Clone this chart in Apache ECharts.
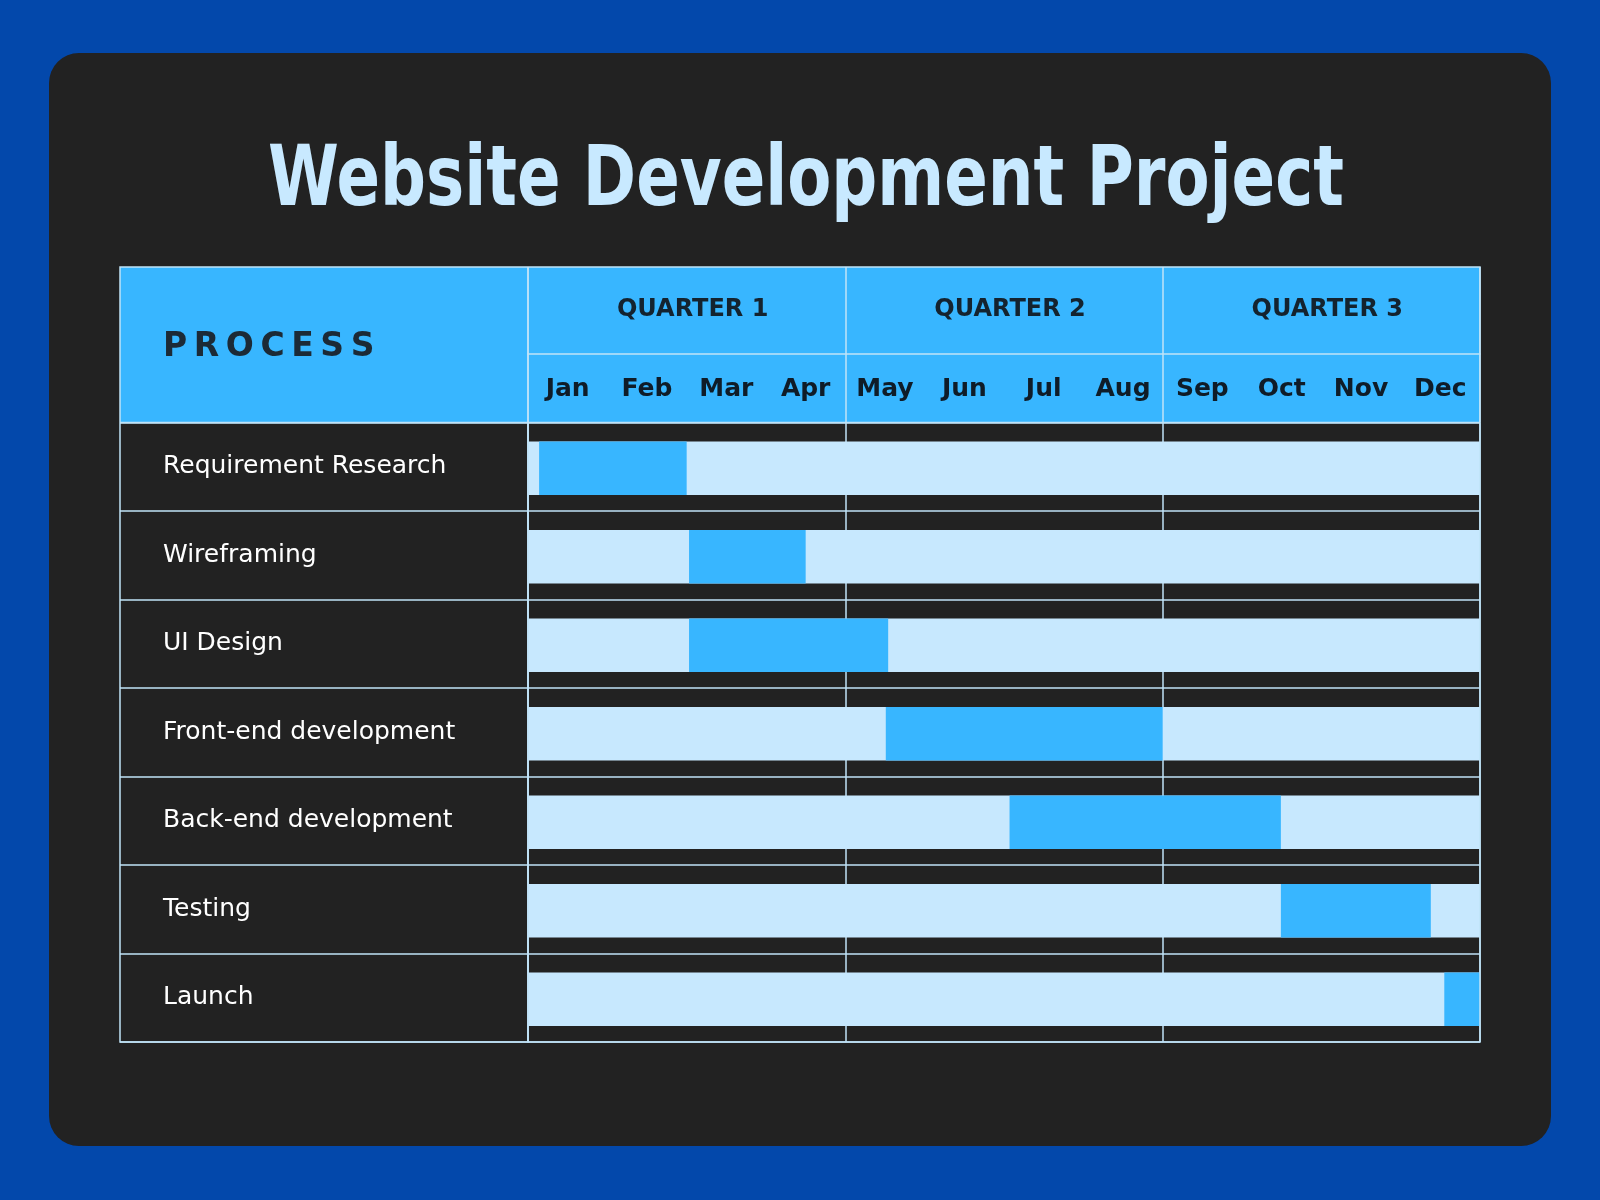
<!DOCTYPE html>
<html>
<head>
<meta charset="utf-8">
<script src="https://cdn.jsdelivr.net/npm/echarts@6/dist/echarts.min.js"></script>
<style>html,body{margin:0;padding:0;background:#0348ab}#c{width:1600px;height:1200px}</style>
</head>
<body>
<div id="c"></div>
<script>
// ---- data ----
const title = 'Website Development Project';
const processHeader = 'PROCESS';
const tasks = ['Requirement Research', 'Wireframing', 'UI Design', 'Front-end development', 'Back-end development', 'Testing', 'Launch'];
const taskStart = [0.14, 2.03, 2.03, 4.51, 6.07, 9.49, 11.55];   // months from start of Jan
const taskEnd   = [2.0, 3.5, 4.54, 8.0, 9.49, 11.38, 12];
const months = ['Jan', 'Feb', 'Mar', 'Apr', 'May', 'Jun', 'Jul', 'Aug', 'Sep', 'Oct', 'Nov', 'Dec'];
const quarters = ['QUARTER 1', 'QUARTER 2', 'QUARTER 3'];
const yearStart = 0, yearEnd = 12, monthsPerQuarter = 4;

// ---- style ----
const BLUE = '#38b6ff', LIGHT = '#c7e8fe', LINE = '#c0e3f8', DARK = '#222222', INK = '#0f1c28';
const FONT = 'DejaVu Sans';

const chart = echarts.init(document.getElementById('c'));
const L = 120, R = 1480, T = 267, HB = 422.5, MID = 354, B = 1042, PC = 528;

const trackData = tasks.map((t, i) => [i, yearStart, yearEnd]);
const taskData = tasks.map((t, i) => [i, taskStart[i], taskEnd[i]]);

function barItem(color) {
  return function (params, api) {
    const y = api.value(0);
    const p0 = api.coord([api.value(1), y]);
    const p1 = api.coord([api.value(2), y]);
    const h = api.size([0, 1])[1] * 0.605;
    return {
      type: 'rect',
      shape: { x: p0[0], y: p0[1] - h / 2 + 1.5, width: p1[0] - p0[0], height: h },
      style: { fill: color }
    };
  };
}

chart.setOption({
  backgroundColor: '#0348ab',
  animation: false,
  grid: { left: PC, right: 1600 - R, top: HB, bottom: 1200 - B, containLabel: false },
  xAxis: [
    {
      type: 'value', min: yearStart, max: yearEnd, interval: monthsPerQuarter,
      axisLine: { show: false }, axisTick: { show: false }, axisLabel: { show: false },
      splitLine: { show: true, lineStyle: { color: LINE, width: 1.5 } }
    },
    {
      type: 'category', data: months, position: 'top', offset: 0,
      axisLine: { show: false },
      axisTick: { show: true, interval: monthsPerQuarter - 1, length: HB - MID, lineStyle: { color: LINE, width: 1.5 } },
      axisLabel: { color: INK, fontFamily: FONT, fontWeight: 'bold', fontSize: 25, margin: 33, verticalAlign: 'middle' },
      splitLine: { show: false }
    },
    {
      type: 'category', data: quarters, position: 'top', offset: HB - MID,
      axisLine: { show: true, lineStyle: { color: LINE, width: 1.5 } },
      axisTick: { show: true, interval: 0, length: MID - T, lineStyle: { color: LINE, width: 1.5 } },
      axisLabel: { color: '#14232f', fontFamily: FONT, fontWeight: 'bold', fontSize: 24, margin: 44, verticalAlign: 'middle', padding: [0, 0, 0, 12] },
      splitLine: { show: false }
    }
  ],
  yAxis: {
    type: 'category', data: tasks, inverse: true,
    axisLine: { show: true, lineStyle: { color: LINE, width: 1.5 } },
    axisTick: { show: true, interval: 0, length: PC - L, lineStyle: { color: LINE, width: 1.5 } },
    axisLabel: { color: '#ffffff', fontFamily: FONT, fontSize: 25, align: 'left', margin: PC - 163, verticalAlign: 'middle', padding: [0, 0, 3, 0] },
    splitLine: { show: true, lineStyle: { color: LINE, width: 1.5 } }
  },
  graphic: [
    { type: 'rect', z: -20, shape: { x: 49, y: 53, width: 1502, height: 1093, r: 30 }, style: { fill: DARK } },
    { type: 'rect', z: -10, shape: { x: L, y: T, width: R - L, height: HB - T }, style: { fill: BLUE } },
    { type: 'text', z: 10, x: 806, y: 183, scaleX: 0.85, style: { text: title, fill: '#c8e9ff', font: 'bold 84px "DejaVu Sans Condensed", "DejaVu Sans"', textAlign: 'center', textVerticalAlign: 'middle' } },
    { type: 'text', z: 10, x: 163, y: 347, style: { text: processHeader.split('').join('\u2009'), fill: '#1c2a36', font: 'bold 33px "DejaVu Sans"', textAlign: 'left', textVerticalAlign: 'middle' } },
    { type: 'line', z: 50, shape: { x1: PC, y1: T, x2: PC, y2: B }, style: { stroke: LINE, lineWidth: 1.5 } },
    { type: 'line', z: 50, shape: { x1: L, y1: HB, x2: R, y2: HB }, style: { stroke: LINE, lineWidth: 1.5 } },
    { type: 'rect', z: 60, shape: { x: L, y: T, width: R - L, height: B - T }, style: { fill: null, stroke: LINE, lineWidth: 1.5 } }
  ],
  series: [
    { type: 'custom', name: 'track', renderItem: barItem(LIGHT), data: trackData, encode: { x: [1, 2], y: 0 }, z: 2 },
    { type: 'custom', name: 'task', renderItem: barItem(BLUE), data: taskData, encode: { x: [1, 2], y: 0 }, z: 3 }
  ]
});
</script>
</body>
</html>
